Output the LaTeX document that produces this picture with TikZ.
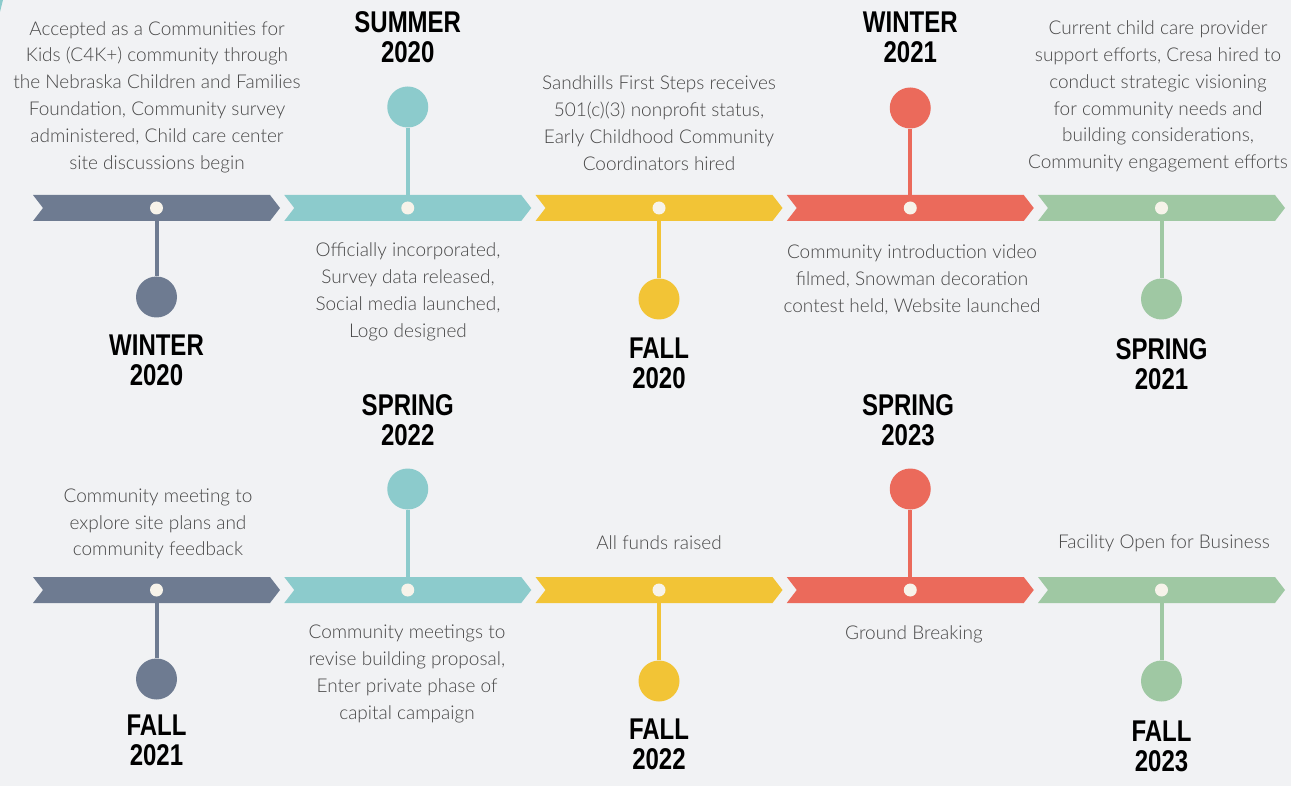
\documentclass[tikz,border=0pt]{standalone}
\usepackage{fontspec}
\setmainfont{Lato Light}
\newfontfamily\headfont{Liberation Sans}
\usepackage{graphicx}
\definecolor{bg}{HTML}{F1F2F4}
\definecolor{slate}{HTML}{6E7B91}
\definecolor{teal}{HTML}{8CCBCC}
\definecolor{yel}{HTML}{F2C436}
\definecolor{coral}{HTML}{EB6A5B}
\definecolor{sage}{HTML}{9FC8A3}
\definecolor{cream}{HTML}{F7F3EA}
\definecolor{txt}{HTML}{474747}
\newcommand\hd[2]{\scalebox{0.8}[1]{#1}\\\scalebox{0.8}[1]{#2}}
\newcommand\tlbar[3]{\fill[#3] ({33+251.25*#1},{#2-13}) -- ({270+251.25*#1},{#2-13}) -- ({280+251.25*#1},#2) -- ({270+251.25*#1},{#2+13}) -- ({33+251.25*#1},{#2+13}) -- ({43+251.25*#1},#2) -- cycle;}
\tikzset{
  dot/.style={circle,fill=cream,minimum size=13pt,inner sep=0pt},
  bigc/.style={circle,minimum size=41pt,inner sep=0pt},
  stem/.style={line width=4pt},
  head/.style={align=center,inner sep=0pt,font=\headfont\bfseries\fontsize{30}{30}\selectfont,text=black},
  body/.style={align=center,inner sep=0pt,font=\fontsize{19}{26.8}\selectfont,text=txt}
}
\begin{document}
\begin{tikzpicture}[x=1pt,y=-1pt]
\fill[bg] (0,0) rectangle (1291,786);
\useasboundingbox (0,0) rectangle (1291,786);
\fill[teal] (0,0) -- (3,0) -- (0,12) -- cycle;
% bars
\tlbar{0}{208}{slate}\tlbar{1}{208}{teal}\tlbar{2}{208}{yel}\tlbar{3}{208}{coral}\tlbar{4}{208}{sage}
\tlbar{0}{590}{slate}\tlbar{1}{590}{teal}\tlbar{2}{590}{yel}\tlbar{3}{590}{coral}\tlbar{4}{590}{sage}
% ---- top row
\node[dot] (d1) at (156.5,208) {};
\node[bigc,fill=slate] (c1) at (156.5,297) {};
\draw[stem,slate] (d1.south) -- (c1.north);
\node[head] (h1) at (156.5,360) {\hd{WINTER}{2020}};
\node[body] (t1) at (157,97) {Accepted as a Communities for\\Kids (C4K+) community through\\the Nebraska Children and Families\\Foundation, Community survey\\administered, Child care center\\site discussions begin};

\node[dot] (d2) at (407.75,208) {};
\node[bigc,fill=teal] (c2) at (407.75,107) {};
\draw[stem,teal] (d2.north) -- (c2.south);
\node[head] (h2) at (407.75,37) {\hd{SUMMER}{2020}};
\node[body] (t2) at (408,292) {Officially incorporated,\\Survey data released,\\Social media launched,\\Logo designed};

\node[dot] (d3) at (659,208) {};
\node[bigc,fill=yel] (c3) at (659,299) {};
\draw[stem,yel] (d3.south) -- (c3.north);
\node[head] (h3) at (659,363) {\hd{FALL}{2020}};
\node[body] (t3) at (659,123) {Sandhills First Steps receives\\501(c)(3) nonprofit status,\\Early Childhood Community\\Coordinators hired};

\node[dot] (d4) at (910.25,208) {};
\node[bigc,fill=coral] (c4) at (910.25,108) {};
\draw[stem,coral] (d4.north) -- (c4.south);
\node[head] (h4) at (910.25,37) {\hd{WINTER}{2021}};
\node[body] (t4) at (912,280) {Community introduction video\\filmed, Snowman decoration\\contest held, Website launched};

\node[dot] (d5) at (1161.5,208) {};
\node[bigc,fill=sage] (c5) at (1161.5,299) {};
\draw[stem,sage] (d5.south) -- (c5.north);
\node[head] (h5) at (1161.5,364) {\hd{SPRING}{2021}};
\node[body] (t5) at (1158,96.5) {Current child care provider\\support efforts, Cresa hired to\\conduct strategic visioning\\for community needs and\\building considerations,\\Community engagement efforts};
% ---- bottom row
\node[dot] (d6) at (156.5,590) {};
\node[bigc,fill=slate] (c6) at (156.5,679) {};
\draw[stem,slate] (d6.south) -- (c6.north);
\node[head] (h6) at (156.5,740) {\hd{FALL}{2021}};
\node[body] (t6) at (158,524) {Community meeting to\\explore site plans and\\community feedback};

\node[dot] (d7) at (407.75,590) {};
\node[bigc,fill=teal] (c7) at (407.75,489) {};
\draw[stem,teal] (d7.north) -- (c7.south);
\node[head] (h7) at (407.75,420) {\hd{SPRING}{2022}};
\node[body] (t7) at (407,674) {Community meetings to\\revise building proposal,\\Enter private phase of\\capital campaign};

\node[dot] (d8) at (659,590) {};
\node[bigc,fill=yel] (c8) at (659,681) {};
\draw[stem,yel] (d8.south) -- (c8.north);
\node[head] (h8) at (659,744) {\hd{FALL}{2022}};
\node[body] (t8) at (659,543) {All funds raised};

\node[dot] (d9) at (910.25,590) {};
\node[bigc,fill=coral] (c9) at (910.25,489) {};
\draw[stem,coral] (d9.north) -- (c9.south);
\node[head] (h9) at (908,420) {\hd{SPRING}{2023}};
\node[body] (t9) at (914,634) {Ground Breaking};

\node[dot] (d10) at (1161.5,590) {};
\node[bigc,fill=sage] (c10) at (1161.5,681) {};
\draw[stem,sage] (d10.south) -- (c10.north);
\node[head] (h10) at (1161.5,746) {\hd{FALL}{2023}};
\node[body] (t10) at (1164,543) {Facility Open for Business};
\end{tikzpicture}
\end{document}
